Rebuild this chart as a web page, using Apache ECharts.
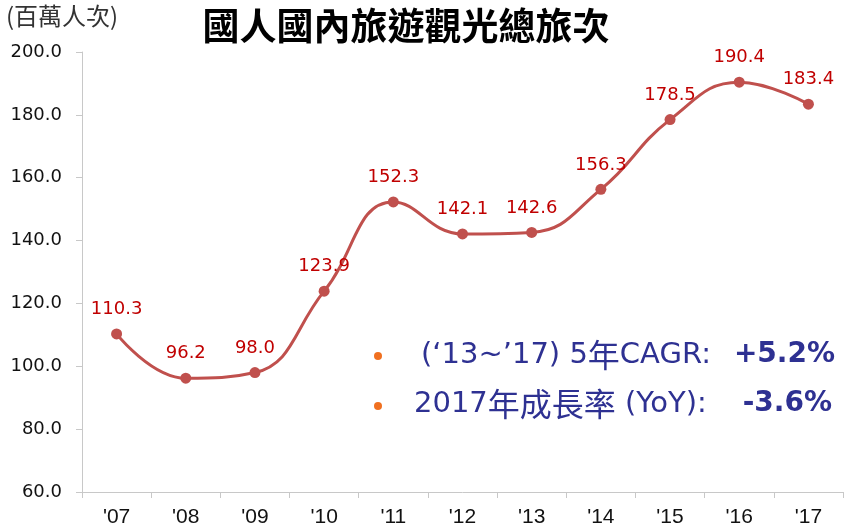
<!DOCTYPE html>
<html>
<head>
<meta charset="utf-8">
<script src="https://cdn.jsdelivr.net/npm/echarts@6/dist/echarts.min.js"></script>
<style>
  html, body { margin: 0; padding: 0; background: #fff; }
  #main { width: 844px; height: 528px; }
</style>
</head>
<body>
<div id="main"></div>
<script>
// 年份與旅次（百萬人次）
const years = ["'07", "'08", "'09", "'10", "'11", "'12", "'13", "'14", "'15", "'16", "'17"];
const trips = [110.3, 96.2, 98.0, 123.9, 152.3, 142.1, 142.6, 156.3, 178.5, 190.4, 183.4];
const yTicks = { min: 60, max: 200, step: 20 };

const noteColor = '#2e3192';
const valueFont = 'bold 28px "DejaVu Sans"';
const noteRich = {
  a: { fill: noteColor, fontSize: 29, fontFamily: 'DejaVu Sans' },
  c: { fill: noteColor, fontSize: 32, fontFamily: 'Noto Sans CJK TC' }
};

const chart = echarts.init(document.getElementById('main'));

const option = {
  backgroundColor: '#fff',
  animation: false,
  grid: { left: 82, right: 1, top: 52, bottom: 36 },
  title: {
    text: '國人國內旅遊觀光總旅次',
    left: 401,
    textAlign: 'center',
    top: 2,
    textStyle: { fontSize: 37, fontWeight: 'bold', color: '#000', fontFamily: 'Noto Sans CJK TC' }
  },
  graphic: [
    { type: 'text', left: 6, top: 4,
      style: { text: '(百萬人次)', font: '24px "Noto Sans CJK TC"', fill: '#333' } },
    // bullets
    { type: 'circle', shape: { cx: 378, cy: 356, r: 4 }, style: { fill: '#f07020' } },
    { type: 'circle', shape: { cx: 378, cy: 406, r: 4 }, style: { fill: '#f07020' } },
    // notes
    { type: 'text', x: 421, y: 355, style: { text: '{a|(‘13~’17) 5}{c|年}{a|CAGR:}', rich: noteRich, verticalAlign: 'middle' } },
    { type: 'text', x: 835, y: 355, style: { text: '+5.2%', font: valueFont, fill: noteColor, align: 'right', verticalAlign: 'middle' } },
    { type: 'text', x: 414, y: 404, style: { text: '{a|2017}{c|年成長率}{a| (YoY):}', rich: noteRich, verticalAlign: 'middle' } },
    { type: 'text', x: 832, y: 404, style: { text: '-3.6%', font: valueFont, fill: noteColor, align: 'right', verticalAlign: 'middle' } }
  ],
  xAxis: {
    type: 'category',
    data: years,
    boundaryGap: true,
    axisLine: { lineStyle: { color: '#c8c8c8' } },
    axisTick: { show: true, length: 6, lineStyle: { color: '#c8c8c8' } },
    axisLabel: { color: '#111', fontSize: 21, margin: 15, fontFamily: 'Liberation Sans Narrow, Liberation Sans' }
  },
  yAxis: {
    type: 'value',
    min: yTicks.min,
    max: yTicks.max,
    interval: yTicks.step,
    splitLine: { show: false },
    axisLine: { show: true, lineStyle: { color: '#c8c8c8' } },
    axisTick: { show: true, length: 6, lineStyle: { color: '#c8c8c8' } },
    axisLabel: {
      color: '#111', fontSize: 18, margin: 20, fontFamily: 'DejaVu Sans',
      formatter: v => v.toFixed(1)
    }
  },
  series: [{
    type: 'line',
    data: trips,
    smooth: 0.45,
    symbol: 'circle',
    symbolSize: 11,
    lineStyle: { color: '#c0504d', width: 3 },
    itemStyle: { color: '#c0504d' },
    label: {
      show: true,
      position: 'top',
      distance: 10,
      color: '#c00000',
      fontSize: 18,
      fontFamily: 'DejaVu Sans',
      formatter: p => p.value.toFixed(1)
    }
  }]
};

chart.setOption(option);
</script>
</body>
</html>
